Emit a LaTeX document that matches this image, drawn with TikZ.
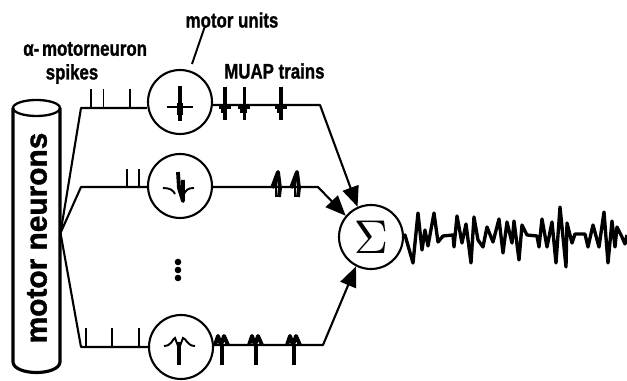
\documentclass[tikz,border=0pt]{standalone}
\usepackage{xcolor}
\usepackage{amsmath}
\usepackage{fontspec}
\setmainfont{Liberation Sans}[BoldFeatures={FakeBold=1.3}]
\usetikzlibrary{arrows.meta}
\tikzset{
	>={Triangle[length=11.5pt,width=9.5pt]},
	mucirc/.style={circle,draw,line width=1.2pt,minimum size=1.28cm,inner sep=0pt},
	lbl/.style={font=\fontsize{12}{12}\bfseries,xscale=0.8,inner sep=0pt},
	conn/.style={line width=1.2pt,line join=round},
	tick/.style={line width=1.1pt},
	apline/.style={line width=1.1pt},
	spk/.style={line width=2.2pt,line join=round},
	blob/.style={line width=3.6pt},
	wave/.style={line width=1.9pt,line join=round}
}

\begin{document}
\begin{tikzpicture}[x=0.02cm,y=-0.02cm]
	\useasboundingbox (0,0) rectangle (627,381);
	% motor neuron pool
	\draw[line width=1.3pt] (36.5,108) ellipse (23.5 and 8);
	\draw[line width=1.8pt] (13,108) -- (13,362) .. controls (14,376) and (59,376) .. (60,362) -- (60,108);
	\node[rotate=90,font=\fontsize{17}{17}\bfseries,inner sep=0pt] (nrnlbl) at (37,238) {motor neurons};
	\node[mucirc] (mua) at (180,102) {};
	\node[mucirc] (mub) at (180,186) {};
	\node[mucirc] (muc) at (181,347) {};
	\node[mucirc] (sum) at (371,237) {\scalebox{2.7}{$\Sigma$}};
	\node[lbl] (units) at (232,20) {motor units};
	\node[lbl,anchor=west] (alpha) at (23,49) {α-\,motorneuron};
	\node[lbl] (spikes) at (72,74) {spikes};
	\node[lbl,anchor=west] (trains) at (224,71) {MUAP trains};
	\coordinate (ldra) at (205,26);
	\coordinate (ldrb) at (192,64);
	\draw[line width=1.1pt] (ldra) -- (ldrb);
	% nerve fibres and summing lines
	\coordinate (fan) at (60.5,233);
	\coordinate (bra) at (81,108);
	\coordinate (brb) at (81,187);
	\coordinate (brc) at (81,347);
	\draw[conn] (fan) -- (bra) -- (mua.west |- bra);
	\draw[conn] (fan) -- (brb) -- (mub.west |- brb);
	\draw[conn] (fan) -- (brc) -- (muc.west);
	\coordinate (tra) at (320,105);
	\coordinate (trb) at (318,187);
	\coordinate (trc) at (323,345);
	\draw[conn,->] (mua.east |- tra) -- (tra) -- (sum.114);
	\draw[conn,->] (mub.east |- trb) -- (trb) -- (sum.140);
	\draw[conn,->] (muc.east |- trc) -- (trc) -- (sum.243);
	% alpha spikes
	\foreach \x in {91,103.5,130}{
		\draw[tick] (\x,89) -- (\x,108);
	}
	\foreach \x in {127,139}{
		\draw[tick] (\x,169) -- (\x,187);
	}
	\foreach \x in {86,112,139}{
		\draw[tick] (\x,328) -- (\x,347);
	}
	% action potentials in the circles
	\draw[apline] (167,107) -- (193,107);
	\draw[spk] (180,86) -- (180,121);
	\draw[blob] (180,103) -- (180,115);
	\draw[apline] (163,188) .. controls (170,188) and (173,190) .. (175,194);
	\draw[apline] (194,188) .. controls (188,188) and (186,190) .. (184,194);
	\draw[spk] (178,172) -- (179,188) -- (183,201) -- (183,180);
	\draw[apline] (164,346) .. controls (172,346) and (173,338) .. (175,338) -- (178,346);
	\draw[apline] (195,346) .. controls (187,346) and (186,338) .. (183,338) -- (180,346);
	\draw[spk] (179,342) -- (179,365);
	% trains
	\foreach \x in {225,244.5,281}{
		\draw[spk] (\x,87) -- (\x,120);
		\draw[blob] (\x-1,104) -- (\x-1,113);
		\draw[spk] (\x-6,107) -- (\x+6,107);
	}
	\foreach \x in {278,297}{
		\draw[spk] (\x-6,188) -- (\x,172) -- (\x+2,188) -- (\x+1,197);
		\draw[apline] (\x-2,197) -- (\x-2,180);
	}
	\foreach \x in {222,256,294}{
		\draw[spk] (\x-7,345) -- (\x-4,336) -- (\x-1,345) -- (\x+2,336) -- (\x+6,345);
		\draw[spk] (\x,345) -- (\x,365);
	}
	% dots
	\foreach \y in {262,270,278}{
		\fill (178,\y) circle (3.3);
	}
	% summed signal
	\coordinate (wend) at (627,235);
	\draw[wave] (sum.east) -- (405,235) foreach \x/\y in {413/263,418/213,422/250,425/230,428/246,434/213,438/242,443/236,453/235,454/247,457/216,462/243,466/224,471/263,474/217,478/240,483/247,487/227,493/242,499/219,503/253,507/222,512/243,514/221,519/260,522/225,527/235,537/236,539/247,542/219,547/247,552/222,556/263,560/207,566/267,567/223,572/243,575/234,585/234,588/247,593/225,599/247,604/212,608/263,612/221,615/247,617/227,622/237,625/244}{-- (\x,\y)} -- (wend);
\end{tikzpicture}
\end{document}
